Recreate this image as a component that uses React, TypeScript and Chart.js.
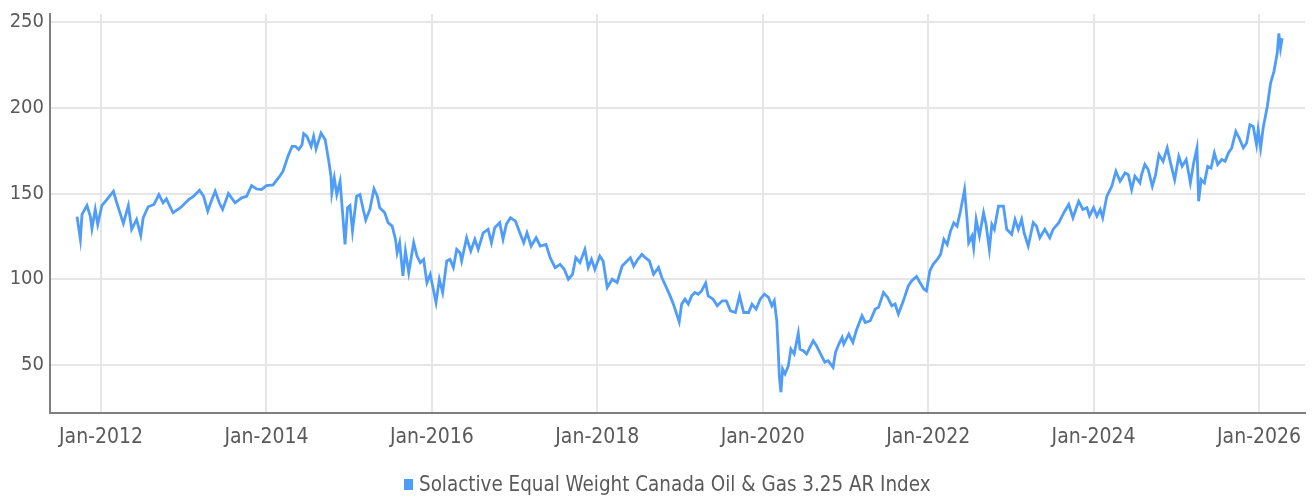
import { useEffect, useRef } from 'react';
import { Chart, registerables } from 'chart.js';

Chart.register(...registerables);

const seriesLabel = 'Solactive Equal Weight Canada Oil & Gas 3.25 AR Index';

// decimal-year dates of the sampled points
const dates = [
  2011.71, 2011.75, 2011.77, 2011.83, 2011.87, 2011.89, 2011.93, 2011.96, 2012.01, 2012.07,
  2012.15, 2012.19, 2012.27, 2012.33, 2012.37, 2012.43, 2012.48, 2012.51, 2012.57, 2012.64,
  2012.70, 2012.75, 2012.79, 2012.87, 2012.96, 2013.06, 2013.12, 2013.19, 2013.24, 2013.29,
  2013.34, 2013.38, 2013.43, 2013.47, 2013.54, 2013.62, 2013.70, 2013.76, 2013.82, 2013.88,
  2013.94, 2014.00, 2014.08, 2014.16, 2014.20, 2014.26, 2014.31, 2014.35, 2014.39, 2014.43,
  2014.45, 2014.49, 2014.54, 2014.57, 2014.60, 2014.66, 2014.71, 2014.75, 2014.78, 2014.79,
  2014.82, 2014.85, 2014.89, 2014.92, 2014.95, 2014.98, 2015.01, 2015.04, 2015.09, 2015.13,
  2015.17, 2015.20, 2015.25, 2015.30, 2015.34, 2015.37, 2015.43, 2015.47, 2015.52, 2015.56,
  2015.58, 2015.61, 2015.65, 2015.68, 2015.72, 2015.78, 2015.82, 2015.86, 2015.90, 2015.94,
  2015.98, 2016.05, 2016.09, 2016.13, 2016.18, 2016.22, 2016.26, 2016.30, 2016.34, 2016.36,
  2016.42, 2016.47, 2016.52, 2016.56, 2016.62, 2016.68, 2016.72, 2016.76, 2016.82, 2016.86,
  2016.90, 2016.95, 2017.01, 2017.07, 2017.11, 2017.15, 2017.20, 2017.26, 2017.31, 2017.38,
  2017.43, 2017.49, 2017.55, 2017.60, 2017.65, 2017.70, 2017.74, 2017.79, 2017.85, 2017.89,
  2017.93, 2017.97, 2018.03, 2018.07, 2018.12, 2018.18, 2018.24, 2018.30, 2018.36, 2018.40,
  2018.44, 2018.49, 2018.54, 2018.58, 2018.63, 2018.68, 2018.74, 2018.78, 2018.84, 2018.88,
  2018.92, 2018.99, 2019.02, 2019.06, 2019.10, 2019.14, 2019.18, 2019.22, 2019.26, 2019.31,
  2019.34, 2019.40, 2019.45, 2019.51, 2019.56, 2019.61, 2019.67, 2019.72, 2019.77, 2019.83,
  2019.87, 2019.92, 2019.97, 2020.02, 2020.07, 2020.11, 2020.14, 2020.17, 2020.19, 2020.20,
  2020.22, 2020.24, 2020.27, 2020.31, 2020.34, 2020.38, 2020.40, 2020.43, 2020.45, 2020.49,
  2020.53, 2020.57, 2020.61, 2020.65, 2020.69, 2020.75, 2020.79, 2020.85, 2020.88, 2020.92,
  2020.96, 2020.98, 2021.04, 2021.09, 2021.13, 2021.20, 2021.24, 2021.30, 2021.36, 2021.40,
  2021.46, 2021.51, 2021.56, 2021.60, 2021.64, 2021.70, 2021.76, 2021.80, 2021.86, 2021.90,
  2021.95, 2021.98, 2022.02, 2022.06, 2022.11, 2022.15, 2022.19, 2022.23, 2022.27, 2022.31,
  2022.35, 2022.39, 2022.44, 2022.47, 2022.49, 2022.53, 2022.55, 2022.58, 2022.62, 2022.67,
  2022.70, 2022.74, 2022.77, 2022.80, 2022.85, 2022.91, 2022.95, 2023.01, 2023.05, 2023.09,
  2023.13, 2023.16, 2023.21, 2023.27, 2023.31, 2023.35, 2023.41, 2023.47, 2023.51, 2023.58,
  2023.64, 2023.70, 2023.75, 2023.82, 2023.87, 2023.92, 2023.95, 2024.00, 2024.04, 2024.08,
  2024.11, 2024.16, 2024.22, 2024.27, 2024.32, 2024.38, 2024.42, 2024.46, 2024.50, 2024.56,
  2024.58, 2024.62, 2024.66, 2024.71, 2024.75, 2024.79, 2024.84, 2024.89, 2024.93, 2024.98,
  2025.03, 2025.07, 2025.12, 2025.17, 2025.21, 2025.25, 2025.27, 2025.30, 2025.34, 2025.38,
  2025.42, 2025.46, 2025.50, 2025.55, 2025.59, 2025.63, 2025.67, 2025.72, 2025.76, 2025.81,
  2025.85, 2025.89, 2025.93, 2025.97, 2025.99, 2026.02, 2026.05, 2026.10, 2026.14, 2026.18,
  2026.22, 2026.24, 2026.26, 2026.28,
];

// index level at each date
const values = [
  136.5, 123.3, 137.8, 143.0, 136.8, 129.5, 140.7, 132.0, 143.0, 146.5,
  151.3, 144.6, 132.6, 143.0, 129.1, 134.9, 125.6, 135.9, 142.3, 143.6,
  149.4, 144.6, 146.9, 138.8, 141.7, 146.5, 148.4, 151.9, 148.4, 139.7,
  146.5, 151.3, 144.6, 140.7, 150.0, 144.6, 147.5, 148.4, 154.6, 152.7,
  152.3, 154.6, 155.0, 160.1, 163.0, 171.7, 177.5, 177.5, 175.6, 178.5,
  184.9, 183.3, 177.5, 183.3, 176.0, 185.3, 181.4, 169.8, 160.1, 150.4,
  159.1, 149.4, 157.2, 138.8, 120.3, 141.7, 143.0, 128.1, 148.4, 149.4,
  140.7, 134.5, 140.7, 152.7, 148.4, 141.7, 138.8, 133.0, 131.0, 123.3,
  115.5, 121.3, 102.0, 116.5, 103.9, 121.3, 113.5, 109.7, 111.6, 98.1,
  102.9, 86.4, 100.0, 92.3, 110.7, 111.6, 106.8, 117.4, 115.5, 110.7,
  124.2, 116.5, 123.3, 117.4, 127.1, 129.1, 121.3, 130.1, 133.0, 123.3,
  132.0, 135.9, 133.9, 126.2, 121.3, 127.1, 119.4, 124.2, 119.4, 120.3,
  112.6, 106.8, 108.7, 105.8, 100.0, 102.9, 112.6, 109.7, 117.4, 106.8,
  111.6, 105.8, 113.5, 110.7, 95.2, 100.0, 98.1, 107.7, 110.7, 112.6,
  107.7, 111.6, 114.5, 112.6, 110.7, 102.9, 106.8, 101.0, 94.7, 90.3,
  85.5, 75.2, 85.5, 88.4, 85.5, 90.3, 92.3, 91.3, 93.2, 97.7,
  90.3, 88.4, 84.5, 87.4, 87.4, 81.6, 80.6, 90.3, 80.6, 80.6,
  85.5, 82.6, 88.4, 91.3, 89.4, 84.5, 87.4, 75.8, 55.4, 43.8,
  34.1, 47.7, 44.8, 49.6, 59.3, 56.4, 61.2, 68.6, 59.3, 58.3,
  56.4, 60.3, 64.1, 61.2, 57.4, 51.6, 52.5, 48.7, 57.4, 62.2,
  66.0, 62.2, 68.0, 63.2, 70.0, 78.7, 74.8, 75.8, 82.6, 83.6,
  92.3, 89.4, 84.5, 85.5, 79.7, 87.4, 96.1, 99.0, 101.6, 98.1,
  94.2, 93.2, 104.8, 108.7, 111.6, 114.5, 123.3, 120.3, 128.1, 133.0,
  131.0, 139.7, 152.3, 134.9, 121.3, 125.2, 118.4, 134.9, 125.2, 138.8,
  132.0, 117.4, 132.0, 129.1, 142.6, 142.6, 129.1, 126.2, 134.9, 129.1,
  134.9, 127.1, 119.4, 133.0, 131.0, 124.2, 129.1, 124.2, 129.1, 133.0,
  138.8, 143.6, 135.9, 145.5, 140.7, 141.7, 137.0, 141.7, 136.8, 140.7,
  135.9, 148.4, 154.2, 163.0, 157.2, 162.0, 161.0, 152.3, 160.1, 156.2,
  161.0, 166.9, 164.0, 154.2, 161.0, 172.7, 168.8, 176.6, 167.9, 158.1,
  171.7, 165.9, 169.8, 156.2, 167.9, 176.6, 145.5, 158.1, 156.2, 165.9,
  164.9, 173.7, 166.9, 169.8, 168.8, 173.7, 176.6, 186.2, 182.4, 176.6,
  179.5, 190.1, 189.1, 178.5, 187.2, 176.6, 188.2, 200.8, 214.4, 221.1,
  231.8, 243.4, 234.7, 240.5,
];

const xTickYears = [2012, 2014, 2016, 2018, 2020, 2022, 2024, 2026];
const yTickValues = [50, 100, 150, 200, 250];

const FONT = "'DejaVu Sans Condensed', 'DejaVu Sans', sans-serif";
const LINE_COLOR = '#4f9cf9';

export default function App() {
  const ref = useRef<HTMLCanvasElement>(null);

  useEffect(() => {
    if (!ref.current) return;
    const points = dates.map((d, i) => ({ x: d, y: values[i] }));
    const chart = new Chart(ref.current, {
      type: 'line',
      data: {
        datasets: [
          {
            label: seriesLabel,
            data: points,
            borderColor: LINE_COLOR,
            backgroundColor: LINE_COLOR,
            borderWidth: 2.8,
            pointRadius: 0,
            tension: 0,
            fill: false,
          },
        ],
      },
      options: {
        animation: false,
        responsive: false,
        maintainAspectRatio: false,
        layout: { padding: { top: 14, right: 9, left: 0, bottom: 39 } },
        plugins: {
          tooltip: { enabled: false },
          legend: { display: false },
        },
        scales: {
          x: {
            type: 'linear',
            min: 2011.383,
            max: 2026.556,
            afterBuildTicks: (axis: any) => {
              axis.ticks = xTickYears.map((v) => ({ value: v }));
            },
            afterFit: (axis: any) => {
              axis.height = 46;
              axis.paddingLeft = 0;
              axis.paddingRight = 0;
            },
            ticks: {
              autoSkip: false,
              maxRotation: 0,
              padding: 12,
              color: '#5a5a5a',
              font: { family: FONT, size: 21 },
              callback: (v: any) => 'Jan-' + v,
            },
            grid: { color: '#e6e6e6', lineWidth: 2, drawTicks: false },
            border: { color: '#808080', width: 2 },
          },
          y: {
            min: 22,
            max: 254.7,
            afterBuildTicks: (axis: any) => {
              axis.ticks = yTickValues.map((v) => ({ value: v }));
            },
            afterFit: (axis: any) => {
              axis.width = 50;
              axis.paddingTop = 0;
              axis.paddingBottom = 0;
            },
            ticks: {
              padding: 6,
              color: '#5a5a5a',
              font: { family: FONT, size: 20 },
            },
            grid: { color: '#e6e6e6', lineWidth: 2, drawTicks: false },
            border: { color: '#808080', width: 2 },
          },
        },
      },
    });
    return () => chart.destroy();
  }, []);

  return (
    <div style={{ position: 'fixed', left: 0, top: 0, width: 1314, height: 498, background: '#fff' }}>
      <canvas ref={ref} width={1314} height={498} style={{ display: 'block' }} />
      <div
        style={{
          position: 'absolute',
          left: 404,
          top: 471,
          height: 26,
          display: 'flex',
          alignItems: 'center',
          fontFamily: FONT,
          fontSize: 20.4,
          color: '#5a5a5a',
          whiteSpace: 'nowrap',
        }}
      >
        <span style={{ display: 'inline-block', width: 9, height: 11, background: LINE_COLOR, marginRight: 6 }} />
        <span>{seriesLabel}</span>
      </div>
    </div>
  );
}
